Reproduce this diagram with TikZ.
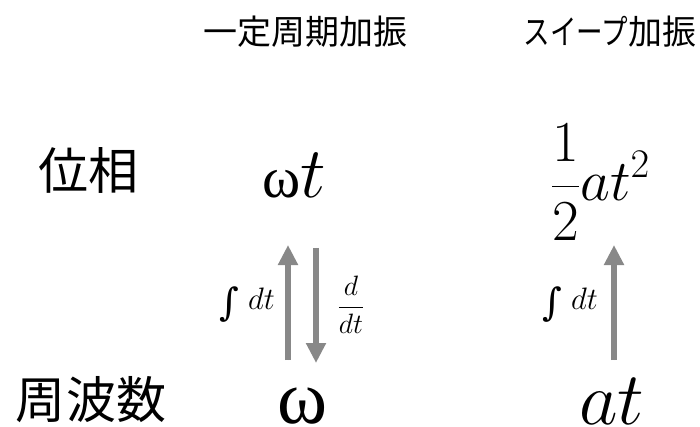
\RequirePackage{fix-cm}
\documentclass[tikz,border=0pt]{standalone}
\usepackage{fontspec}
\usepackage{graphicx}
\usetikzlibrary{arrows.meta}
\newfontfamily\jpfont{Noto Sans CJK JP}
\newfontfamily\grkfont{Liberation Serif}
\newfontfamily\intfont{DejaVu Serif}
\newcommand{\myint}{{\intfont\fontsize{38}{40}\selectfont\raisebox{-6pt}{∫}}}
\newcommand{\opsize}{\fontsize{31}{34}\selectfont}
\definecolor{arrowgray}{RGB}{136,136,136}
\tikzset{
  hdr/.style={font=\jpfont\fontsize{34}{38}\selectfont, inner sep=0pt, anchor=center},
  rowlbl/.style={font=\jpfont\fontsize{50}{56}\selectfont, inner sep=0pt, anchor=center},
  expr/.style={inner sep=0pt, anchor=base west},
  oplbl/.style={inner sep=0pt, anchor=center},
  conv/.style={draw=arrowgray, line width=6pt, -{Triangle[width=19pt,length=20pt]}, fill=arrowgray},
}
\begin{document}
\begin{tikzpicture}[x=1pt,y=-1pt]
\useasboundingbox (0,0) rectangle (700,427);
% headers
\node[hdr] (h1) at (305,31.5) {一定周期加振};
\node[hdr] (h2) at (610,31.5) {\scalebox{0.78}[1]{スイープ}加振};
% row labels
\node[rowlbl] (phase) at (88,170) {位相};
\node[rowlbl] (freq) at (91,400) {周波数};
% expressions
\node[expr] (wt) at (262,198) {{\fontsize{58}{60}\selectfont\grkfont ω}{\fontsize{72}{74}\selectfont$t$}};
\node[expr] (hat) at (551,201) {\fontsize{58}{60}\selectfont$\displaystyle\frac{1}{2}at^2$};
\node[expr, anchor=base] (w) at (303,423) {\fontsize{76}{80}\selectfont\grkfont ω};
\node[expr] (at) at (579,424) {\fontsize{75}{78}\selectfont$at$};
% arrow end points
\coordinate (a1s) at (288,360);
\coordinate (a1e) at (288,245);
\coordinate (a2s) at (316,248);
\coordinate (a2e) at (316,363);
\coordinate (a3s) at (614,360);
\coordinate (a3e) at (614,245);
\draw[conv] (a1s) -- (a1e);
\draw[conv] (a2s) -- (a2e);
\draw[conv] (a3s) -- (a3e);
% operator labels
\node[oplbl] (int1) at (247,305) {\myint\hspace{9pt}{\opsize$dt$}};
\node[oplbl] (ddt) at (351,305) {\fontsize{28}{32}\selectfont$\displaystyle\frac{d}{dt}$};
\node[oplbl] (int2) at (570,305) {\myint\hspace{9pt}{\opsize$dt$}};
\end{tikzpicture}
\end{document}
